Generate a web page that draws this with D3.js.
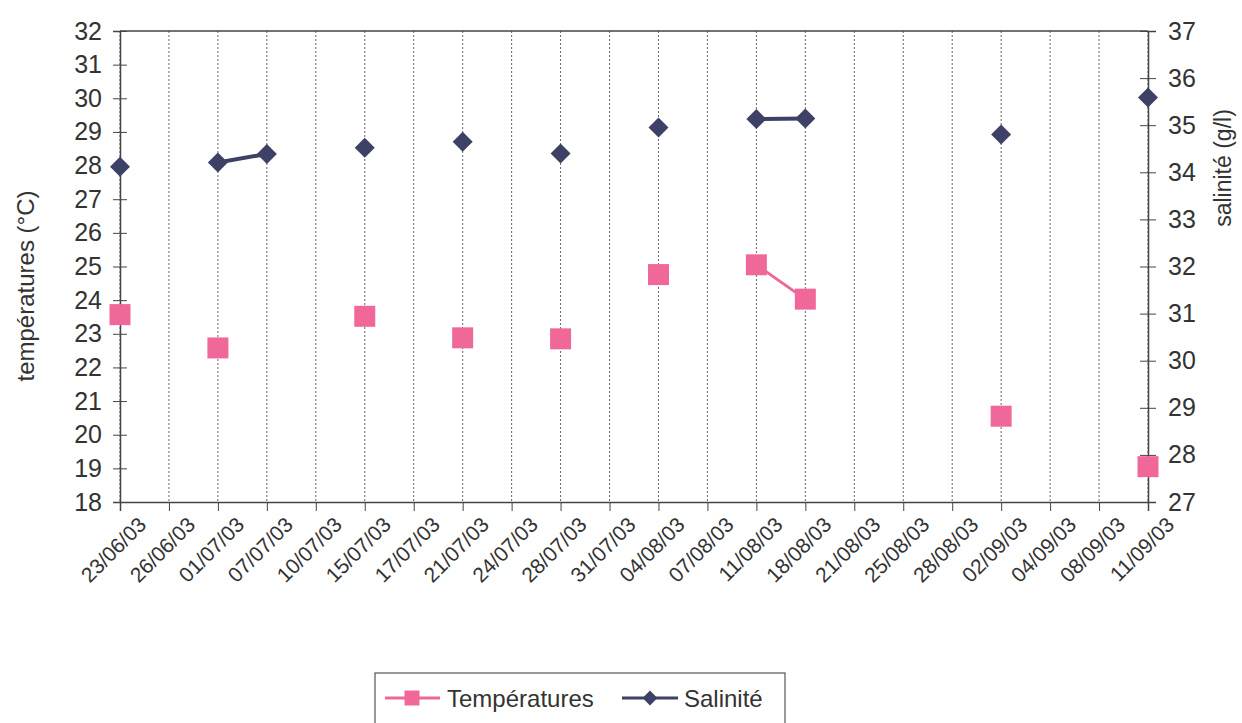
<!DOCTYPE html>
<html><head><meta charset="utf-8">
<script src="https://cdn.jsdelivr.net/npm/d3@7"></script>
<style>
html,body{margin:0;padding:0;background:#fff;}
text{font-family:"Liberation Sans",Arial,sans-serif;fill:#333;}
</style></head>
<body>
<svg id="c" width="1242" height="723"></svg>
<script>
const dates = ["23/06/03","26/06/03","01/07/03","07/07/03","10/07/03","15/07/03","17/07/03","21/07/03","24/07/03","28/07/03","31/07/03","04/08/03","07/08/03","11/08/03","18/08/03","21/08/03","25/08/03","28/08/03","02/09/03","04/09/03","08/09/03","11/09/03"];
const temperatures = [23.57,null,22.58,null,null,23.52,null,22.88,null,22.85,null,24.76,null,25.05,24.03,null,null,null,20.55,null,null,19.05];
const salinite = [34.12,null,34.21,34.39,null,34.52,null,34.65,null,34.4,null,34.95,null,35.13,35.14,null,null,null,34.8,null,null,35.59];
const leftTicks = d3.range(18,33,1);
const rightTicks = d3.range(27,38,1);

const svg = d3.select("#c");
const L=120, R=1148, T=31, B=502;
const x = d3.scalePoint().domain(dates).range([L,R]);
const yL = d3.scaleLinear().domain([18,32]).range([B,T]);
const yR = d3.scaleLinear().domain([27,37]).range([B,T]);
const pink="#f0689a", navy="#3e4166", axisC="#444";

// grid
svg.append("g").selectAll("line").data(dates).join("line")
  .attr("x1",d=>x(d)).attr("x2",d=>x(d)).attr("y1",T).attr("y2",B)
  .attr("stroke","#666").attr("stroke-width",1).attr("stroke-dasharray","2,2");
// top border
svg.append("line").attr("x1",L).attr("x2",R).attr("y1",T).attr("y2",T).attr("stroke",axisC).attr("stroke-width",1.5);

// left axis
const gl = svg.append("g").attr("transform",`translate(${L},0)`)
  .call(d3.axisLeft(yL).tickValues(leftTicks).tickSize(7).tickPadding(11).tickFormat(d3.format("d")));
gl.selectAll(".tick line").attr("x2",7).attr("x1",-7).attr("stroke",axisC);
gl.select(".domain").attr("stroke",axisC).attr("stroke-width",1.5);
gl.selectAll("text").style("font-size","25px").attr("fill","#333");

// right axis
const gr = svg.append("g").attr("transform",`translate(${R},0)`)
  .call(d3.axisRight(yR).tickValues(rightTicks).tickSize(8).tickPadding(12).tickFormat(d3.format("d")));
gr.selectAll(".tick line").attr("x1",-8).attr("stroke",axisC);
gr.select(".domain").attr("stroke",axisC).attr("stroke-width",1.5);
gr.selectAll("text").style("font-size","25px").attr("fill","#333");

// bottom axis
const gb = svg.append("g").attr("transform",`translate(0,${B})`)
  .call(d3.axisBottom(x).tickSize(9).tickPadding(8));
gb.select(".domain").attr("stroke",axisC).attr("stroke-width",1.5);
gb.selectAll(".tick line").attr("stroke",axisC);
gb.selectAll("text").style("font-size","21px").attr("fill","#333")
  .attr("text-anchor","end").attr("dy",0)
  .attr("transform","translate(15,12) rotate(-45)");

// axis titles
svg.append("text").attr("transform","translate(34,286) rotate(-90)")
  .attr("text-anchor","middle").style("font-size","24px").text("températures (°C)");
svg.append("text").attr("transform","translate(1231,168) rotate(-90)")
  .attr("text-anchor","middle").style("font-size","23px").text("salinité (g/l)");

// lines
const lineT = d3.line().defined(d=>d!==null).x((d,i)=>x(dates[i])).y(d=>yL(d));
const lineS = d3.line().defined(d=>d!==null).x((d,i)=>x(dates[i])).y(d=>yR(d));
svg.append("path").attr("d",lineT(temperatures)).attr("fill","none").attr("stroke",pink).attr("stroke-width",3);
svg.append("path").attr("d",lineS(salinite)).attr("fill","none").attr("stroke",navy).attr("stroke-width",4);

const sq = d3.symbol().type(d3.symbolSquare).size(21*21);
const dm = d3.symbol().type(d3.symbolSquare).size(200);
const tPts = temperatures.map((v,i)=>({v,i})).filter(d=>d.v!==null);
const sPts = salinite.map((v,i)=>({v,i})).filter(d=>d.v!==null);
svg.append("g").selectAll("path").data(tPts).join("path")
  .attr("d",sq).attr("transform",d=>`translate(${x(dates[d.i])},${yL(d.v)})`).attr("fill",pink);
svg.append("g").selectAll("path").data(sPts).join("path")
  .attr("d",dm).attr("transform",d=>`translate(${x(dates[d.i])},${yR(d.v)}) rotate(45)`).attr("fill",navy);

// legend
const lg = svg.append("g");
lg.append("rect").attr("x",375).attr("y",673).attr("width",410).attr("height",60)
  .attr("fill","#fff").attr("stroke","#555").attr("stroke-width",1.2);
lg.append("line").attr("x1",385).attr("x2",440).attr("y1",698).attr("y2",698).attr("stroke",pink).attr("stroke-width",3);
lg.append("path").attr("d",d3.symbol().type(d3.symbolSquare).size(15*15)).attr("transform","translate(412,698)").attr("fill",pink);
lg.append("text").attr("x",447).attr("y",707).style("font-size","24px").text("Températures");
lg.append("line").attr("x1",622).attr("x2",678).attr("y1",698).attr("y2",698).attr("stroke",navy).attr("stroke-width",3);
lg.append("path").attr("d",d3.symbol().type(d3.symbolSquare).size(110)).attr("transform","translate(650,698) rotate(45)").attr("fill",navy);
lg.append("text").attr("x",684).attr("y",707).style("font-size","24px").text("Salinité");
</script>
</body></html>
